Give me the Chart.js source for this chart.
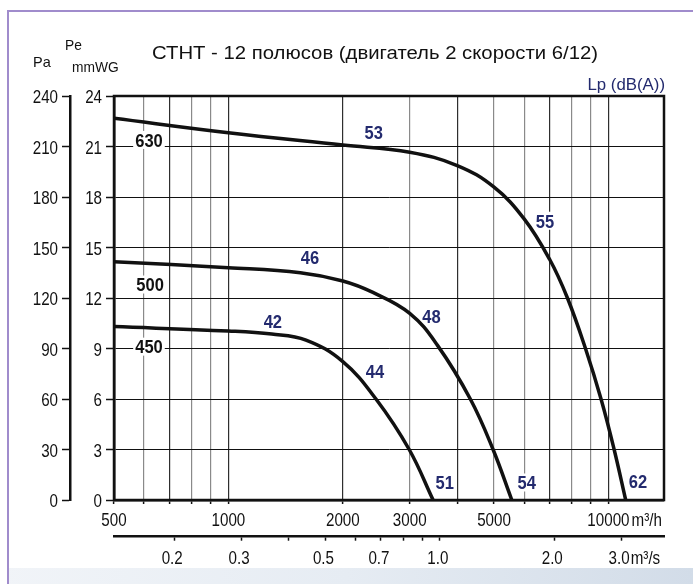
<!DOCTYPE html>
<html><head><meta charset="utf-8">
<script src="https://cdn.jsdelivr.net/npm/chart.js@4/dist/chart.umd.min.js"></script>
<style>html,body{margin:0;padding:0;background:#fff;overflow:hidden}#wrap{width:693px;height:584px;position:relative}</style>
</head><body><div id="wrap"><canvas id="c" width="693" height="584"></canvas></div>
<script>
// ---- data ----
const titleText = 'СТНТ - 12 полюсов (двигатель 2 скорости 6/12)';
const flowTicks = [500,600,700,800,900,1000,2000,3000,4000,5000,6000,7000,8000,9000,10000];
const flowLabels = [500,1000,2000,3000,5000,10000];
const mmwgTicks = [0,3,6,9,12,15,18,21,24];
const paTicks = [0,30,60,90,120,150,180,210,240];
const msTicks = [0.2,0.3,0.4,0.5,0.6,0.7,0.8,0.9,1.0,2.0,3.0];
const msLabels = [0.2,0.3,0.5,0.7,1.0,2.0,3.0];

const flow630 = [500,1000,2000,3000,4000,5000,6000,7000,7800,8700,9560,10350,11100];
const pe630   = [22.68,21.82,21.09,20.66,19.87,18.58,16.7,14.3,12.0,9.0,6.0,3.0,0];
const flow500 = [500,1000,1546,2000,2400,3000,3546,4330,4970,5568];
const pe500   = [14.16,13.8,13.5,13.01,12.33,11.09,9.2,6.0,3.0,0];
const flow450 = [500,1000,1300,1600,2000,2445,2990,3456];
const pe450   = [10.3,10.04,9.86,9.5,8.22,6.0,3.0,0];

const curveNames = ['630','500','450'];
const curveNameFlow = [618,622,618];
const curveNamePe = [21.39,12.8,9.11];
const noiseLabels = ['53','55','46','48','42','44','51','54','62'];
const noiseFlow = [2412,6810,1640,3423,1309,2431,3709,6095,11960];
const noisePe = [21.87,16.59,14.41,10.89,10.65,7.65,1.04,1.04,1.14];

// ---- styles ----
const REG = "'Liberation Sans',Arial,sans-serif";
const INK = '#111';
const NAVY = '#232a6e';
const lightGridFlows = [600,800,900,3000,5000,6000,8000,9000];
const TICK_SIZE = 18.5, TICK_SX = 0.82;

function pts(fx, py){ return fx.map((f,i)=>({x:f,y:py[i]})); }

function ntext(c, txt, x, y, align, size, weight, sx){
  c.save();
  c.font = weight + ' ' + size + 'px ' + REG;
  c.textAlign = align; c.textBaseline = 'alphabetic';
  c.translate(x, y); c.scale(sx, 1);
  c.fillText(txt, 0, 0);
  c.restore();
}
function nwidth(c, txt, size, weight, sx){
  c.save(); c.font = weight + ' ' + size + 'px ' + REG;
  const w = c.measureText(txt).width * sx; c.restore(); return w;
}

const extras = {
  id:'extras',
  beforeDraw(chart){
    const c = chart.ctx;
    c.save();
    const g = c.createLinearGradient(0,0,693,0);
    g.addColorStop(0,'#f1f4f8'); g.addColorStop(0.5,'#e6ecf3'); g.addColorStop(1,'#d2dce8');
    c.fillStyle = g; c.fillRect(9,568,684,16);
    c.strokeStyle = '#a08ccc'; c.lineWidth = 2;
    c.beginPath(); c.moveTo(8,584); c.lineTo(8,11); c.lineTo(693,11); c.stroke();
    c.restore();
  },
  beforeDatasetsDraw(chart){
    const c = chart.ctx, x = chart.scales.x, y = chart.scales.y;
    const LS = 19, LSX = 0.87;
    function boxed(txt, px, py, color){
      const w = nwidth(c, txt, LS, 'bold', LSX);
      c.fillStyle = '#fff'; c.fillRect(px-w/2-2, py-9, w+4, 18);
      c.fillStyle = color;
      ntext(c, txt, px, py+6.8, 'center', LS, 'bold', LSX);
    }
    curveNames.forEach((t,i)=>boxed(t, x.getPixelForValue(curveNameFlow[i]), y.getPixelForValue(curveNamePe[i]), INK));
    noiseLabels.forEach((t,i)=>boxed(t, x.getPixelForValue(noiseFlow[i]), y.getPixelForValue(noisePe[i]), NAVY));
  },
  afterDatasetsDraw(chart){
    const c = chart.ctx, a = chart.chartArea, s = chart.scales;
    c.save();
    c.strokeStyle = INK; c.lineWidth = 2.5;
    c.strokeRect(a.left, a.top, a.right-a.left, a.bottom-a.top);
    c.fillStyle = INK;
    const capHalf = 0.716*TICK_SIZE/2;
    s.y.ticks.forEach(t=>ntext(c, String(t.value), s.y.right-12, s.y.getPixelForValue(t.value)+capHalf+0.5, 'right', TICK_SIZE, 'normal', TICK_SX));
    s.pa.ticks.forEach(t=>ntext(c, String(t.value), s.pa.right-12, s.pa.getPixelForValue(t.value)+capHalf+0.5, 'right', TICK_SIZE, 'normal', TICK_SX));
    s.x.ticks.filter(t=>flowLabels.includes(t.value)).forEach(t=>ntext(c, String(t.value), s.x.getPixelForValue(t.value), 526, 'center', TICK_SIZE, 'normal', TICK_SX));
    s.ms.ticks.filter(t=>msLabels.some(m=>Math.abs(m-t.value)<1e-9)).forEach(t=>ntext(c, t.value.toFixed(1), s.ms.getPixelForValue(t.value)-2, 564, 'center', TICK_SIZE, 'normal', TICK_SX));
    const w1 = nwidth(c, '10000', TICK_SIZE, 'normal', TICK_SX);
    ntext(c, 'm³/h', s.x.getPixelForValue(10000)+w1/2+2, 526, 'left', TICK_SIZE, 'normal', TICK_SX);
    const w2 = nwidth(c, '3.0', TICK_SIZE, 'normal', TICK_SX);
    ntext(c, 'm³/s', s.ms.getPixelForValue(3.0)-2+w2/2+1, 564, 'left', TICK_SIZE, 'normal', TICK_SX);
    c.font = '17.5px ' + REG;
    const tw = c.measureText(titleText).width;
    ntext(c, titleText, 152, 59, 'left', 17.5, 'normal', 446/tw);
    ntext(c, 'Pa', 33, 66.5, 'left', 14.5, 'normal', 1);
    ntext(c, 'Pe', 65, 50, 'left', 14.5, 'normal', 0.95);
    ntext(c, 'mmWG', 72, 71.5, 'left', 14.5, 'normal', 0.95);
    c.fillStyle = NAVY;
    ntext(c, 'Lp (dB(A))', a.right+1, 89.5, 'right', 16, 'normal', 1.05);
    c.restore();
  }
};

const lineStyle = {borderColor:INK, borderWidth:3.5, pointRadius:0, fill:false, tension:0.4, borderCapStyle:'round', borderJoinStyle:'round'};
const noTicks = {display:false};

new Chart(document.getElementById('c'), {
  type:'line',
  data:{datasets:[
    Object.assign({label:'630', data:pts(flow630,pe630)}, lineStyle),
    Object.assign({label:'500', data:pts(flow500,pe500)}, lineStyle),
    Object.assign({label:'450', data:pts(flow450,pe450)}, lineStyle)
  ]},
  options:{
    responsive:false, animation:false,
    layout:{padding:{top:96,right:29,left:0,bottom:0}},
    plugins:{legend:{display:false}, tooltip:{enabled:false}},
    scales:{
      x:{type:'logarithmic', position:'bottom', weight:0, min:500, max:14000,
        afterBuildTicks:s=>{ s.ticks = flowTicks.map(v=>({value:v})); },
        afterFit:s=>{ s.height = 36.7; },
        grid:{color:c=> (c.tick && lightGridFlows.includes(c.tick.value)) ? '#8a8a8a' : '#2e2e2e', lineWidth:1.2, tickLength:4, tickColor:INK, tickWidth:1.5},
        border:{display:true, color:INK, width:2.5},
        ticks:noTicks
      },
      ms:{type:'logarithmic', position:'bottom', axis:'x', weight:1, min:500/3600, max:14000/3600,
        afterBuildTicks:s=>{ s.ticks = msTicks.map(v=>({value:v})); },
        afterFit:s=>{ s.height = 47.3; },
        grid:{drawOnChartArea:false, tickLength:4, tickColor:INK, tickWidth:1.5},
        border:{display:true, color:INK, width:2.5},
        ticks:noTicks
      },
      y:{type:'linear', position:'left', weight:0, min:0, max:24,
        afterBuildTicks:s=>{ s.ticks = mmwgTicks.map(v=>({value:v})); },
        afterFit:s=>{ s.width = 44; },
        grid:{color:INK, lineWidth:1, tickLength:8, tickColor:INK, tickWidth:1.5},
        border:{display:true, color:INK, width:2.5},
        ticks:noTicks
      },
      pa:{type:'linear', position:'left', axis:'y', weight:1, min:0, max:240,
        afterBuildTicks:s=>{ s.ticks = paTicks.map(v=>({value:v})); },
        afterFit:s=>{ s.width = 70; },
        grid:{drawOnChartArea:false, tickLength:8, tickColor:INK, tickWidth:1.5},
        border:{display:true, color:INK, width:2.5},
        ticks:noTicks
      }
    }
  },
  plugins:[extras]
});
</script></body></html>
